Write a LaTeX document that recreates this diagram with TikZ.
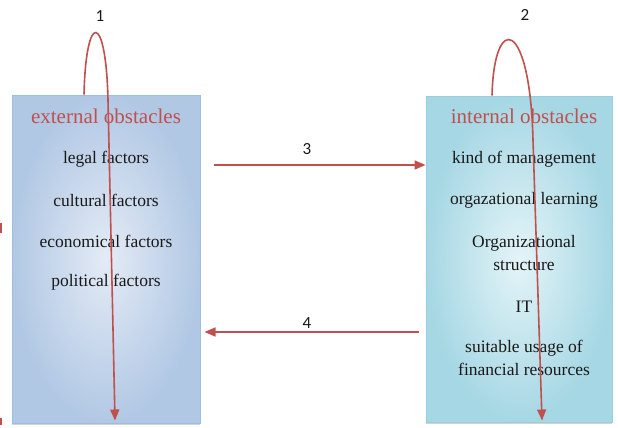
\documentclass[tikz,border=0pt]{standalone}
\usepackage{fontspec}
\setmainfont{Liberation Serif}
\newfontfamily\numfont{Carlito}
\usetikzlibrary{arrows.meta,shadows}
\definecolor{arrowred}{RGB}{192,80,77}
\definecolor{extlight}{RGB}{228,235,246}
\definecolor{extdark}{RGB}{160,188,222}
\definecolor{intlight}{RGB}{228,244,248}
\definecolor{intdark}{RGB}{150,208,223}
\tikzset{
  extbox/.style={rectangle,draw=extdark,line width=1pt,inner color=extlight,outer color=extdark!75!extlight,
    minimum width=188pt,minimum height=328pt,
    drop shadow={shadow xshift=0pt,shadow yshift=-2pt,opacity=.35}},
  intbox/.style={rectangle,draw=intdark,line width=1pt,inner color=intlight,outer color=intdark!80!intlight,
    minimum width=186pt,minimum height=326pt,
    drop shadow={shadow xshift=0pt,shadow yshift=-2pt,opacity=.35}},
  boxtitle/.style={text=arrowred,font=\fontsize{21}{24}\selectfont},
  item/.style={text=black!90,align=center,font=\fontsize{17.5}{23}\selectfont},
  num/.style={text=black!90,font=\numfont\fontsize{17}{20}\selectfont},
  flow/.style={draw=arrowred,line width=1.6pt,-{Triangle[length=11pt,width=9pt]}}
}
\begin{document}
\begin{tikzpicture}[x=1pt,y=-1pt]
\useasboundingbox (0,0) rectangle (618,428);
% the two boxes
\node[extbox] (ext) at (106,259) {};
\node[intbox] (int) at (519,259) {};
% external side
\node[boxtitle] (exttitle) at (106,116) {external obstacles};
\node[item] (legal) at (106,159) {legal factors};
\node[item] (cultural) at (106,200) {cultural factors};
\node[item] (economical) at (106,241) {economical factors};
\node[item] (political) at (106,282) {political factors};
% internal side
\node[boxtitle] (inttitle) at (524,116) {internal obstacles};
\node[item] (management) at (524,159) {kind of management};
\node[item] (learning) at (524,200) {orgazational learning};
\node[item] (structure) at (524,253) {Organizational\\structure};
\node[item] (it) at (524,307) {IT};
\node[item] (finance) at (524,358) {suitable usage of\\financial resources};
% loops
\draw[flow] ([xshift=-22pt]ext.north) .. controls (86,10) and (106,12) .. (108,100)
  -- ([xshift=9pt,yshift=3pt]ext.south);
\draw[flow] ([xshift=-27pt]int.north) .. controls (494,12) and (530,18) .. (533,140)
  -- ([xshift=23pt,yshift=2pt]int.south);
\node[num] (n1) at (100,16) {1};
\node[num] (n2) at (525,15) {2};
% between the boxes
\coordinate (r3) at (0,165);
\coordinate (r4) at (0,332);
\draw[flow] ([xshift=13pt]ext.east |- r3) -- (int.west |- r3);
\draw[flow] ([xshift=-7pt]int.west |- r4) -- ([xshift=4pt]ext.east |- r4);
\node[num] (n3) at (307,149) {3};
\node[num] (n4) at (307,323) {4};
% marks at the left edge
\fill[arrowred] (0,223) rectangle (2,233);
\fill[arrowred] (0,418) rectangle (2,425);
\end{tikzpicture}
\end{document}
